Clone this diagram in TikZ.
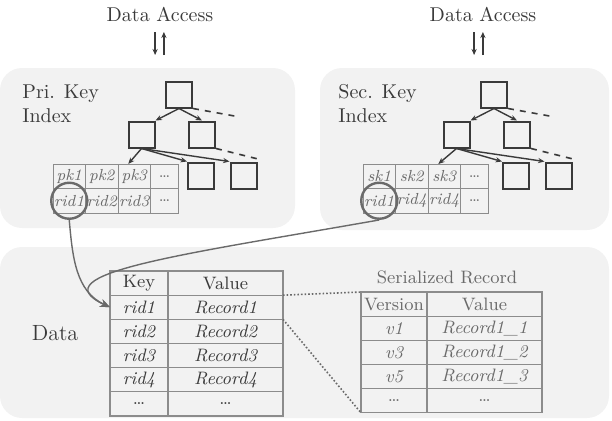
\documentclass[tikz,border=0pt]{standalone}
\usepackage{tikz}
\usetikzlibrary{positioning,arrows.meta}
\definecolor{panel}{HTML}{F2F2F2}
\definecolor{ink}{HTML}{3A3A3A}
\definecolor{rule}{HTML}{8C8C8C}
\definecolor{soft}{HTML}{6A6A6A}
\tikzset{
  area/.style={rounded corners=11pt,fill=panel,draw=none},
  bnode/.style={draw=ink,line width=1pt,minimum size=13pt,inner sep=0},
  ptr/.style={-{Stealth[length=3.2pt,width=2.6pt]},ink,line width=0.7pt},
  more/.style={dashed,ink,line width=0.8pt},
  kcell/.style={draw=rule,line width=0.5pt,inner sep=0,outer sep=0,minimum width=16.25pt,minimum height=12.25pt,font=\footnotesize\itshape,text=soft},
  dcell/.style={draw=rule,line width=0.6pt,inner sep=0,outer sep=0,minimum width=#1,minimum height=12.08pt,font=\small,text=ink},
  ring/.style={circle,draw=soft,line width=1.2pt,minimum size=18pt,inner sep=0},
  lookup/.style={-{Stealth[length=5pt,width=4pt]},soft,line width=0.7pt},
  zoomed/.style={densely dotted,soft,line width=0.8pt},
  acc/.style={-{Stealth[length=3pt,width=2.6pt]},ink,line width=1pt},
}

\begin{document}
\begin{tikzpicture}[x=1pt,y=1pt]
\useasboundingbox (0,0) rectangle (306,210);
% shaded areas
\fill[area] (0,96) rectangle (147.5,176);
\fill[area] (160,95) rectangle (304.5,176);
\fill[area] (0,1) rectangle (304.5,86.5);

% access on top of both indexes
\node[text=ink] (pa) at (80,203) {Data Access};
\coordinate (pa-top) at (79.75,194);
\coordinate (pa-bot) at (79.75,182.5);
\draw[acc] ([xshift=-2.2pt]pa-top) -- ([xshift=-2.2pt]pa-bot);
\draw[acc] ([xshift=2.2pt]pa-bot) -- ([xshift=2.2pt]pa-top);
\node[text=ink] (sa) at (241.5,203) {Data Access};
\coordinate (sa-top) at (239.25,194);
\coordinate (sa-bot) at (239.25,182.5);
\draw[acc] ([xshift=-2.2pt]sa-top) -- ([xshift=-2.2pt]sa-bot);
\draw[acc] ([xshift=2.2pt]sa-bot) -- ([xshift=2.2pt]sa-top);

% primary key index
\node[anchor=north west,inner sep=0,align=left,text=ink] (plab) at (11,168) {Pri. Key\\Index};
\node[bnode] (p-root) at (89.5,162.75) {};
\node[bnode] (p-l)    at (70.75,142.75) {};
\node[bnode] (p-r)    at (101,142.75) {};
\node[bnode] (p-ll)   at (100.5,122.25) {};
\node[bnode] (p-lr)   at (121.75,122.25) {};
\coordinate (p-dash1) at (120,151.5);
\coordinate (p-dash2) at (131,130);
\node[kcell] (pk1) at (34.625,121.875) {pk1};
\node[kcell,right=0pt of pk1] (pk2) {pk2};
\node[kcell,right=0pt of pk2] (pk3) {pk3};
\node[kcell,right=0pt of pk3,minimum width=14pt] (pk4) {\textup{\dots}};
\node[kcell,below=0pt of pk1] (prid1) {rid1};
\node[kcell,below=0pt of pk2] (prid2) {rid2};
\node[kcell,below=0pt of pk3] (prid3) {rid3};
\node[kcell,below=0pt of pk4,minimum width=14pt] (prid4) {\textup{\dots}};
\draw[ptr] (p-root.south) -- (p-l.north east);
\draw[ptr] (p-root.south) -- (p-r.north);
\draw[more] (p-root.south east) -- (p-dash1);
\draw[ptr] (p-l.south) -- ([xshift=-3pt]pk3.north);
\draw[ptr] (p-l.south) -- (p-ll.north west);
\draw[ptr] (p-l.south) -- (p-lr.north west);
\draw[more] (p-r.south east) -- (p-dash2);
\node[ring] (p-ring) at (prid1.center) {};

% secondary key index
\node[anchor=north west,inner sep=0,align=left,text=ink] (slab) at (169,168) {Sec. Key\\Index};
\node[bnode] (s-root) at (247,162.75) {};
\node[bnode] (s-l)    at (228.25,142.75) {};
\node[bnode] (s-r)    at (258.5,142.75) {};
\node[bnode] (s-ll)   at (258,122.25) {};
\node[bnode] (s-lr)   at (279.25,122.25) {};
\coordinate (s-dash1) at (277.5,151.5);
\coordinate (s-dash2) at (288.5,130);
\node[kcell] (sk1) at (189.625,121.875) {sk1};
\node[kcell,right=0pt of sk1] (sk2) {sk2};
\node[kcell,right=0pt of sk2] (sk3) {sk3};
\node[kcell,right=0pt of sk3,minimum width=14pt] (sk4) {\textup{\dots}};
\node[kcell,below=0pt of sk1] (srid1) {rid1};
\node[kcell,below=0pt of sk2] (srid2) {rid4};
\node[kcell,below=0pt of sk3] (srid3) {rid4};
\node[kcell,below=0pt of sk4,minimum width=14pt] (srid4) {\textup{\dots}};
\draw[ptr] (s-root.south) -- (s-l.north east);
\draw[ptr] (s-root.south) -- (s-r.north);
\draw[more] (s-root.south east) -- (s-dash1);
\draw[ptr] (s-l.south) -- ([xshift=-3pt]sk3.north);
\draw[ptr] (s-l.south) -- (s-ll.north west);
\draw[ptr] (s-l.south) -- (s-lr.north west);
\draw[more] (s-r.south east) -- (s-dash2);
\node[ring] (s-ring) at (srid1.center) {};

% data store
\node[font=\fontsize{11}{13}\selectfont,text=ink] (dlab) at (27.5,43.5) {Data};
\node[dcell=29pt] (dk0) at (69.5,68.46) {Key};
\node[dcell=57.5pt,right=0pt of dk0] (dv0) {Value};
\node[dcell=29pt,below=0pt of dk0,font=\small\itshape] (dk1) {rid1};
\node[dcell=29pt,below=0pt of dk1,font=\small\itshape] (dk2) {rid2};
\node[dcell=29pt,below=0pt of dk2,font=\small\itshape] (dk3) {rid3};
\node[dcell=29pt,below=0pt of dk3,font=\small\itshape] (dk4) {rid4};
\node[dcell=29pt,below=0pt of dk4] (dk5) {\dots};
\node[dcell=57.5pt,right=0pt of dk1,font=\small\itshape] (dv1) {Record1};
\node[dcell=57.5pt,right=0pt of dk2,font=\small\itshape] (dv2) {Record2};
\node[dcell=57.5pt,right=0pt of dk3,font=\small\itshape] (dv3) {Record3};
\node[dcell=57.5pt,right=0pt of dk4,font=\small\itshape] (dv4) {Record4};
\node[dcell=57.5pt,right=0pt of dk5] (dv5) {\dots};

% one record, version by version
\node[font=\small,text=soft] (stitle) at (223.5,71.5) {Serialized Record};
\node[dcell=33pt,text=soft] (sv0) at (197,57.95) {Version};
\node[dcell=57.5pt,right=0pt of sv0,text=soft] (sr0) {Value};
\node[dcell=33pt,below=0pt of sv0,font=\small\itshape,text=soft] (sv1) {v1};
\node[dcell=33pt,below=0pt of sv1,font=\small\itshape,text=soft] (sv2) {v3};
\node[dcell=33pt,below=0pt of sv2,font=\small\itshape,text=soft] (sv3) {v5};
\node[dcell=33pt,below=0pt of sv3,text=soft] (sv4) {\dots};
\node[dcell=57.5pt,right=0pt of sv1,font=\small\itshape,text=soft] (sr1) {Record1\_1};
\node[dcell=57.5pt,right=0pt of sv2,font=\small\itshape,text=soft] (sr2) {Record1\_2};
\node[dcell=57.5pt,right=0pt of sv3,font=\small\itshape,text=soft] (sr3) {Record1\_3};
\node[dcell=57.5pt,right=0pt of sv4,text=soft] (sr4) {\dots};
\draw[zoomed] (dv1.north east) -- (sv0.north west);
\draw[zoomed] (dv1.south east) -- (sv4.south west);

% both indexes point at the same row
\draw[lookup] (p-ring.south) to[out=-85,in=155] (dk1.west);
\draw[lookup] (s-ring.south) to[out=190,in=155,out distance=100pt,in distance=40pt] (dk1.west);
\end{tikzpicture}
\end{document}
